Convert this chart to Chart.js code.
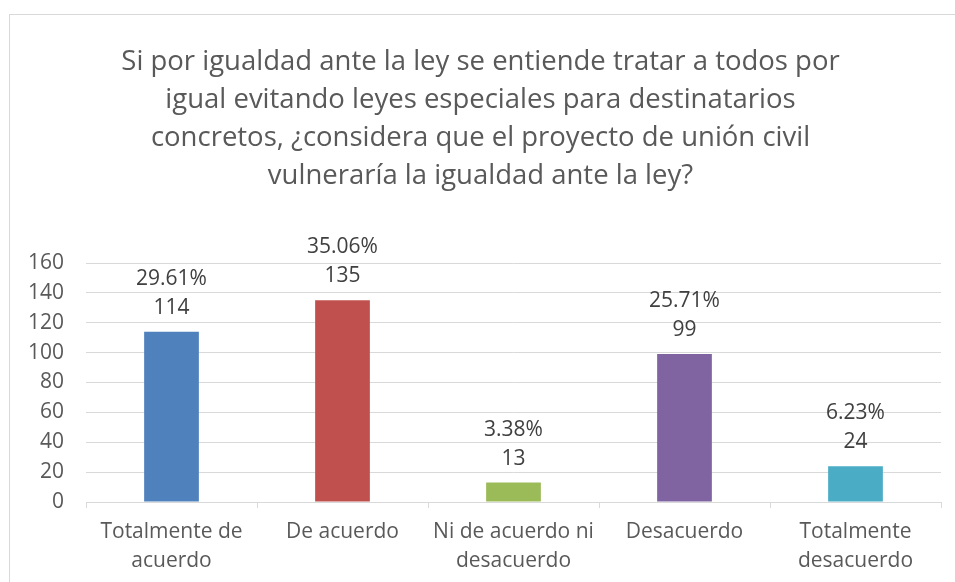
<!DOCTYPE html>
<html>
<head>
<meta charset="utf-8">
<script src="https://cdn.jsdelivr.net/npm/chart.js@4/dist/chart.umd.min.js"></script>
<style>
  html, body { margin: 0; padding: 0; background: #fff; }
  #wrap { width: 955px; height: 582px; position: relative; }
</style>
</head>
<body>
<div id="wrap"><canvas id="grafico" width="955" height="582"></canvas></div>
<script>
const categorias = [
    ['Totalmente de', 'acuerdo'],
    'De acuerdo',
    ['Ni de acuerdo ni', 'desacuerdo'],
    'Desacuerdo',
    ['Totalmente', 'desacuerdo']
];
const respuestas = [114, 135, 13, 99, 24];
const porcentajes = ['29.61%', '35.06%', '3.38%', '25.71%', '6.23%'];
const colores = ['#4f81bd', '#c0504d', '#9bbb59', '#8064a2', '#4bacc6'];
const ticksY = [0, 20, 40, 60, 80, 100, 120, 140, 160];

const titulo = [
    'Si por igualdad ante la ley se entiende tratar a todos por',
    'igual evitando leyes especiales para destinatarios',
    'concretos, ¿considera que el proyecto de unión civil',
    'vulneraría la igualdad ante la ley?'
];

const fuente = '"Open Sans", Lato, sans-serif';

// marco gris alrededor del grafico
const marco = {
    id: 'marco',
    beforeDraw(chart) {
        const ctx = chart.ctx;
        ctx.save();
        ctx.fillStyle = '#ffffff';
        ctx.fillRect(0, 0, chart.width, chart.height);
        ctx.strokeStyle = '#d9d9d9';
        ctx.lineWidth = 1;
        ctx.strokeRect(9.5, 14.5, chart.width + 20, chart.height + 20);
        ctx.restore();
    }
};

// etiquetas de porcentaje y cantidad encima de cada barra
const etiquetas = {
    id: 'etiquetas',
    afterDatasetsDraw(chart) {
        const ctx = chart.ctx;
        const meta = chart.getDatasetMeta(0);
        ctx.save();
        ctx.font = '21px ' + fuente;
        ctx.fillStyle = '#404040';
        ctx.textAlign = 'center';
        ctx.textBaseline = 'middle';
        meta.data.forEach((barra, i) => {
            ctx.fillText(String(respuestas[i]), barra.x, barra.y - 24);
            ctx.fillText(porcentajes[i], barra.x, barra.y - 53);
        });
        ctx.restore();
    }
};

const ctx = document.getElementById('grafico').getContext('2d');
new Chart(ctx, {
    type: 'bar',
    data: {
        labels: categorias,
        datasets: [{
            data: respuestas,
            backgroundColor: colores,
            borderWidth: 0,
            categoryPercentage: 1,
            barPercentage: 0.32
        }]
    },
    options: {
        responsive: false,
        animation: false,
        layout: { padding: { top: 0, left: 20, right: 14, bottom: 0 } },
        plugins: {
            legend: { display: false },
            tooltip: { enabled: false },
            title: {
                display: true,
                text: titulo,
                color: '#595959',
                font: { family: fuente, size: 27.5, weight: 'normal', lineHeight: '38px' },
                padding: { top: 43, bottom: 68 }
            }
        },
        scales: {
            x: {
                offset: true,
                grid: {
                    offset: true,
                    drawOnChartArea: false,
                    drawTicks: true,
                    tickLength: 6,
                    color: '#d9d9d9'
                },
                border: { display: true, color: '#d9d9d9' },
                ticks: {
                    color: '#595959',
                    padding: 10,
                    maxRotation: 0,
                    autoSkip: false,
                    font: { family: fuente, size: 21, lineHeight: '29px' }
                },
                afterFit(scale) { scale.height = 80; }
            },
            y: {
                min: 0,
                max: 160,
                afterBuildTicks(scale) {
                    scale.ticks = ticksY.map(v => ({ value: v }));
                },
                grid: { color: '#d9d9d9', drawTicks: false },
                border: { display: false },
                ticks: {
                    color: '#595959',
                    padding: 22,
                    font: { family: fuente, size: 21 }
                },
                afterFit(scale) { scale.width = 66; }
            }
        }
    },
    plugins: [marco, etiquetas]
});
</script>
</body>
</html>
